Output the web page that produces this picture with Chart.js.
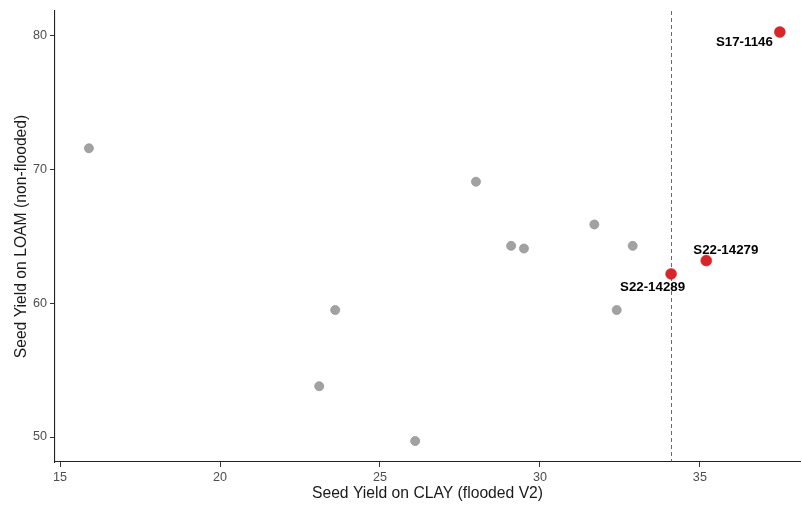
<!DOCTYPE html>
<html>
<head>
<meta charset="utf-8">
<script src="https://cdn.jsdelivr.net/npm/chart.js@4"></script>
<style>
  body { margin: 0; background: #fff; }
  #wrap { width: 802px; height: 505px; }
</style>
</head>
<body>
<div id="wrap"><canvas id="grafico" width="802" height="505"></canvas></div>
<script>
// Dados
const clayYield = [15.9, 23.1, 23.6, 26.1, 28.0, 29.1, 29.5, 31.7, 32.4, 32.9];
const loamYield = [71.6, 53.8, 59.5, 49.7, 69.1, 64.3, 64.1, 65.9, 59.5, 64.3];

const selectedNames = ['S17-1146', 'S22-14279', 'S22-14289'];
const selectedClay = [37.5, 35.2, 34.1];
const selectedLoam = [80.3, 63.2, 62.2];

const clayCutoff = 34.1;

const xTicks = [15, 20, 25, 30, 35];
const yTicks = [50, 60, 70, 80];

// posição dos rótulos (px, relativo ao ponto)
const labelOffsets = {
    'S17-1146': { dx: -7, dy: 10, align: 'right' },
    'S22-14279': { dx: -13, dy: -10, align: 'left' },
    'S22-14289': { dx: 14, dy: 13, align: 'right' }
};

const fonte = '"Liberation Sans", Arial, sans-serif';

const cutoffLine = {
    id: 'cutoffLine',
    beforeDatasetsDraw(chart) {
        const { ctx, chartArea, scales } = chart;
        const x = Math.round(scales.x.getPixelForValue(clayCutoff)) + 0.5;
        ctx.save();
        ctx.strokeStyle = '#444';
        ctx.lineWidth = 0.8;
        ctx.setLineDash([4, 3]);
        ctx.beginPath();
        ctx.moveTo(x, chartArea.top);
        ctx.lineTo(x, chartArea.bottom);
        ctx.stroke();
        ctx.restore();
    }
};

const pointLabels = {
    id: 'pointLabels',
    afterDatasetsDraw(chart) {
        const { ctx } = chart;
        const meta = chart.getDatasetMeta(1);
        ctx.save();
        ctx.font = 'bold 13.3px ' + fonte;
        ctx.fillStyle = '#000';
        ctx.textBaseline = 'middle';
        meta.data.forEach((pt, i) => {
            const name = selectedNames[i];
            const o = labelOffsets[name];
            ctx.textAlign = o.align;
            ctx.fillText(name, pt.x + o.dx, pt.y + o.dy);
        });
        ctx.restore();
    }
};

const ctx = document.getElementById('grafico').getContext('2d');

new Chart(ctx, {
    type: 'scatter',
    data: {
        datasets: [
            {
                label: 'outros',
                data: clayYield.map((v, i) => ({ x: v, y: loamYield[i] })),
                backgroundColor: '#a2a2a2',
                borderColor: '#979797',
                borderWidth: 0.8,
                pointRadius: 4.5
            },
            {
                label: 'selecionados',
                data: selectedClay.map((v, i) => ({ x: v, y: selectedLoam[i] })),
                backgroundColor: '#d7262a',
                borderColor: '#d7262a',
                borderWidth: 0.5,
                pointRadius: 5.5
            }
        ]
    },
    options: {
        responsive: false,
        animation: false,
        layout: { autoPadding: false, padding: { left: 0, right: 2, top: 11, bottom: 0 } },
        plugins: {
            legend: { display: false },
            tooltip: { enabled: false }
        },
        scales: {
            x: {
                type: 'linear',
                min: 14.84,
                max: 38.13,
                afterBuildTicks: s => { s.ticks = xTicks.map(v => ({ value: v })); },
                afterFit: s => { s.height = 43; },
                grid: { drawOnChartArea: false, tickLength: 5, tickColor: '#333', tickWidth: 1 },
                border: { display: true, color: '#222', width: 1.1 },
                ticks: {
                    padding: 3,
                    color: '#4d4d4d',
                    font: { family: fonte, size: 12.6 },
                    maxRotation: 0
                },
                title: {
                    display: true,
                    text: 'Seed Yield on CLAY (flooded V2)',
                    color: '#1a1a1a',
                    padding: { top: 0, bottom: 1.5 },
                    font: { family: fonte, size: 15.7 }
                }
            },
            y: {
                type: 'linear',
                min: 48.13,
                max: 81.87,
                afterBuildTicks: s => { s.ticks = yTicks.map(v => ({ value: v })); },
                afterFit: s => { s.width = 55; },
                grid: { drawOnChartArea: false, tickLength: 5, tickColor: '#333', tickWidth: 1 },
                border: { display: true, color: '#222', width: 1.1 },
                ticks: {
                    padding: 3,
                    color: '#4d4d4d',
                    font: { family: fonte, size: 12.6 }
                },
                title: {
                    display: true,
                    text: 'Seed Yield on LOAM (non-flooded)',
                    color: '#1a1a1a',
                    padding: { top: 12, bottom: 0 },
                    font: { family: fonte, size: 15.7 }
                }
            }
        }
    },
    plugins: [cutoffLine, pointLabels]
});
</script>
</body>
</html>
